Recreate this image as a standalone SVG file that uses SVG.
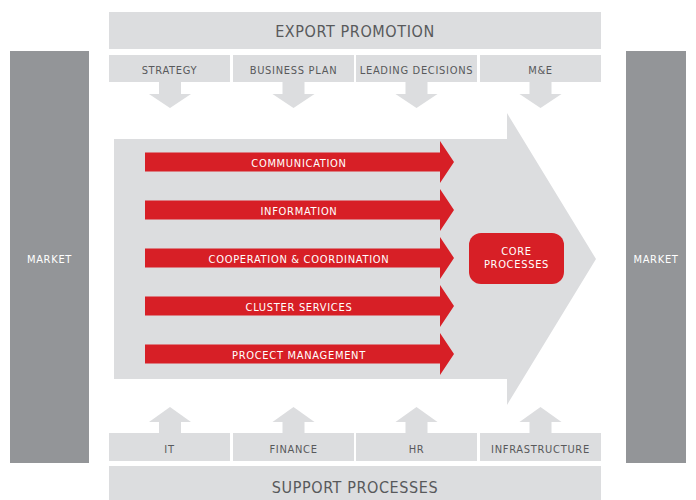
<svg xmlns="http://www.w3.org/2000/svg" width="696" height="500" viewBox="0 0 696 500">
<style>
.lg{fill:#dcdddf}
.dg{fill:#939598}
.rd{fill:#d71f26}
text{font-family:"DejaVu Sans","Liberation Sans",sans-serif;font-stretch:condensed;text-anchor:middle}
.hd{font-size:16px;fill:#58595b;letter-spacing:0.6px}
.sb{font-size:11px;fill:#58595b;letter-spacing:0.7px}
.wt{font-size:11px;fill:#ffffff;letter-spacing:0.7px}
</style>
<defs>
<polygon id="dn" points="-11,0 11,0 11,12 21,12 0,26 -21,12 -11,12"/>
<polygon id="up" points="-11,0 11,0 11,-11 21,-11 0,-26 -21,-11 -11,-11"/>
<polygon id="ra" points="0,-9.5 295,-9.5 295,-21 309,0 295,21 295,9.5 0,9.5"/>
</defs>
<g id="market-left"><rect class="dg" x="10" y="51" width="79" height="412"/><text class="wt" x="49.5" y="263">MARKET</text></g>
<g id="market-right"><rect class="dg" x="626" y="51" width="60" height="412"/><text class="wt" x="656" y="263">MARKET</text></g>
<g id="export-promotion"><rect class="lg" x="109" y="12" width="492" height="37"/><text class="hd" x="355" y="37">EXPORT PROMOTION</text></g>
<g id="strategy"><rect class="lg" x="109" y="55" width="121" height="27"/><text class="sb" x="169.5" y="74">STRATEGY</text></g>
<g id="business-plan"><rect class="lg" x="233" y="55" width="121" height="27"/><text class="sb" x="293.5" y="74">BUSINESS PLAN</text></g>
<g id="leading-decisions"><rect class="lg" x="356" y="55" width="121" height="27"/><text class="sb" x="416.5" y="74">LEADING DECISIONS</text></g>
<g id="me"><rect class="lg" x="480" y="55" width="121" height="27"/><text class="sb" x="540.5" y="74">M&amp;E</text></g>
<g id="core-arrow"><polygon class="lg" points="114,139 507,139 507,113 596,259 507,405 507,379 114,379"/></g>
<g id="connectors" class="lg">
<use href="#dn" x="170" y="82"/><use href="#dn" x="293.5" y="82"/><use href="#dn" x="416.5" y="82"/><use href="#dn" x="540.5" y="82"/>
<use href="#up" x="170" y="433"/><use href="#up" x="293.5" y="433"/><use href="#up" x="416.5" y="433"/><use href="#up" x="540.5" y="433"/>
</g>
<g id="communication"><use class="rd" href="#ra" x="145" y="162"/><text class="wt" x="299" y="166.5">COMMUNICATION</text></g>
<g id="information"><use class="rd" href="#ra" x="145" y="210"/><text class="wt" x="299" y="214.5">INFORMATION</text></g>
<g id="cooperation"><use class="rd" href="#ra" x="145" y="258"/><text class="wt" x="299" y="262.5">COOPERATION &amp; COORDINATION</text></g>
<g id="cluster-services"><use class="rd" href="#ra" x="145" y="306"/><text class="wt" x="299" y="310.5">CLUSTER SERVICES</text></g>
<g id="project-management"><use class="rd" href="#ra" x="145" y="354"/><text class="wt" x="299" y="358.5">PROCECT MANAGEMENT</text></g>
<g id="core-processes"><rect class="rd" x="469" y="233" width="95" height="51" rx="12"/><text class="wt" x="516.5" y="255">CORE</text><text class="wt" x="516.5" y="268">PROCESSES</text></g>
<g id="it"><rect class="lg" x="109" y="433" width="121" height="28"/><text class="sb" x="169.5" y="453">IT</text></g>
<g id="finance"><rect class="lg" x="233" y="433" width="121" height="28"/><text class="sb" x="293.5" y="453">FINANCE</text></g>
<g id="hr"><rect class="lg" x="356" y="433" width="121" height="28"/><text class="sb" x="416.5" y="453">HR</text></g>
<g id="infrastructure"><rect class="lg" x="480" y="433" width="121" height="28"/><text class="sb" x="540.5" y="453">INFRASTRUCTURE</text></g>
<g id="support-processes"><rect class="lg" x="109" y="466" width="492" height="34"/><text class="hd" x="355" y="493">SUPPORT PROCESSES</text></g>
</svg>
